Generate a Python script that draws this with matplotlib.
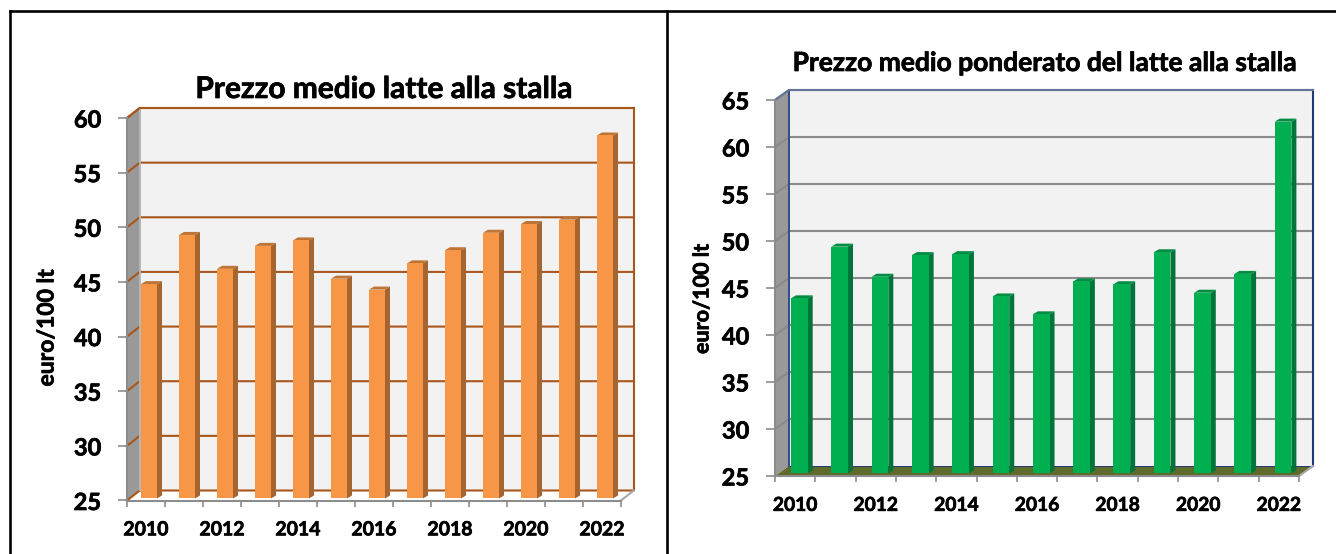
import matplotlib
matplotlib.use('Agg')
import matplotlib.pyplot as plt
import matplotlib.patheffects as pe
from matplotlib.lines import Line2D
from matplotlib.patches import Polygon
from matplotlib.text import Text
import numpy as np

W, H = 1336, 554

years = [2010, 2011, 2012, 2013, 2014, 2015, 2016, 2017, 2018, 2019, 2020, 2021, 2022]
prezzo_medio = [44.8, 49.3, 46.2, 48.3, 48.8, 45.3, 44.3, 46.7, 47.9, 49.5, 50.3, 50.7, 58.4]
prezzo_ponderato = [43.9, 49.4, 46.2, 48.5, 48.6, 44.1, 42.2, 45.7, 45.4, 48.8, 44.5, 46.5, 62.7]

ticks_left = [25, 30, 35, 40, 45, 50, 55, 60]
ticks_right = [25, 30, 35, 40, 45, 50, 55, 60, 65]

plt.rcParams['font.family'] = ['Lato', 'DejaVu Sans']
plt.rcParams['font.weight'] = 'bold'


def px_axes(fig, x0, x1, y_top, y_bottom):
    return fig.add_axes([x0/W, 1 - y_bottom/H, (x1 - x0)/W, (y_bottom - y_top)/H])


def panel(fig, values, yticks, box, depth_px, style):
    # box is the front plane in pixels: left, right, top, bottom
    x0, x1, y_top, y_bot = box
    ddx, ddy = depth_px
    ymin, ymax = yticks[0], yticks[-1]
    n = len(values)
    px_x = (x1 - x0) / n
    px_y = (y_bot - y_top) / (ymax - ymin)
    dx, dy = ddx / px_x, ddy / px_y

    ax = px_axes(fig, x0, x1 + ddx, y_top - ddy, y_bot)
    ax.set_xlim(0, n + dx)
    ax.set_ylim(ymin, ymax + dy)
    ax.patch.set_visible(False)

    # walls
    ax.add_patch(Polygon([(dx, ymin + dy), (n + dx, ymin + dy), (n + dx, ymax + dy), (dx, ymax + dy)],
                         fc='#f2f2f2', ec='none', zorder=1))
    ax.add_patch(Polygon([(0, ymin), (dx, ymin + dy), (dx, ymax + dy), (0, ymax)],
                         fc='#999999', ec='none', zorder=1))
    if style['floor']:
        ax.add_patch(Polygon([(0, ymin), (dx, ymin + dy), (n + dx, ymin + dy), (n, ymin)],
                             fc=style['floor'], ec='none', zorder=2))

    # gridlines on back wall and side wall
    for v in yticks:
        if v == ymin and style['floor']:
            ax.plot([dx, n + dx], [v + dy, v + dy], c=style['edge'], lw=0.7, zorder=2)
            continue
        ax.plot([0, dx, n + dx], [v, v + dy, v + dy], c=style['grid'], lw=1.5, zorder=2,
                solid_joinstyle='miter', clip_on=False)
    ax.plot([dx, dx], [ymin + dy, ymax + dy], c=style['back_left'], lw=1.4, zorder=2, clip_on=False)
    ax.plot([n + dx, n + dx], [ymin + dy, ymax + dy], c=style['edge'], lw=1.5, zorder=2, clip_on=False)
    ax.plot([0, dx, n + dx], [ymax, ymax + dy, ymax + dy], c=style['top'], lw=1.5, zorder=2, clip_on=False)

    # bars
    off = style['bar_off'] / px_x
    bw = style['bar_w'] / px_x
    sx = style['side'][0] / px_x
    sy = style['side'][1] / px_y
    base = ymin + style['bar_base'] / px_y
    for i, v in enumerate(values):
        left = i + off
        right = left + bw
        ax.add_patch(Polygon([(right, base), (right + sx, base + sy), (right + sx, v + sy), (right, v)],
                             fc=style['c_side'], ec='none', zorder=3))
        ax.add_patch(Polygon([(left, v), (left + sx, v + sy), (right + sx, v + sy), (right, v)],
                             fc=style['c_top'], ec='none', zorder=3))
        ax.add_patch(Polygon([(left, base), (right, base), (right, v), (left, v)],
                             fc=style['c_front'], ec='none', zorder=4))

    # axes
    for s in ['top', 'right']:
        ax.spines[s].set_visible(False)
    for s in ['left', 'bottom']:
        ax.spines[s].set_color('#8c8c8c')
        ax.spines[s].set_linewidth(1.5)
        ax.spines[s].set_zorder(5)
    ax.spines['left'].set_bounds(ymin, ymax)
    ax.spines['bottom'].set_bounds(0, n)
    ax.plot([n, n + dx], [ymin, ymin + dy], c='#a6a6a6', lw=1.5, zorder=2, clip_on=False)

    ax.set_yticks(yticks)
    ax.tick_params(axis='y', length=6.5, width=1.2, color='#8c8c8c', pad=style['ypad'],
                   labelsize=style['ysize'])
    ax.set_xticks(np.arange(n + 1))
    ax.set_xticklabels([])
    ax.tick_params(axis='x', which='major', length=4.5, width=1.2, color='#8c8c8c')
    ax.set_xticks(np.arange(0, n, 2) + 0.5, [str(y) for y in years[::2]], minor=True)
    ax.tick_params(axis='x', which='minor', length=0, pad=style['xpad'], labelsize=style['xsize'])
    return ax


fig = plt.figure(figsize=(W/100, H/100), dpi=100)

left_style = dict(floor=None, grid='#a9561b', back_left='#b5b5b5', edge='#a9561b', top='#a9561b',
                  bar_off=14, bar_w=16, side=(5, 3), bar_base=2,
                  c_front='#f79646', c_side='#a6652f', c_top='#bd7434',
                  ypad=12, ysize=17, xpad=15, xsize=14)
panel(fig, prezzo_medio, ticks_left, (127, 621, 118, 500.5), (12.7, 10), left_style)

right_style = dict(floor='#5f6b2b', grid='#8a8a8a', back_left='#2f4b8c', edge='#1f3a7a', top='#66749c',
                   bar_off=16, bar_w=16.7, side=(5, 3), bar_base=2.7,
                   c_front='#00b050', c_side='#00753a', c_top='#008c42',
                   ypad=12, ysize=17, xpad=15, xsize=13.8)
panel(fig, prezzo_ponderato, ticks_right, (775, 1299, 100, 476), (14, 10), right_style)

fig.text(384/W, 1 - 89/H, 'Prezzo medio latte alla stalla', ha='center', va='center', fontsize=21.5)
fig.text(1044/W, 1 - 63/H, 'Prezzo medio ponderato del latte alla stalla', ha='center', va='center', fontsize=19)
fig.text(47/W, 1 - 328/H, 'euro/100 lt', rotation=90, ha='center', va='center', fontsize=16.5)
fig.text(702/W, 1 - 299/H, 'euro/100 lt', rotation=90, ha='center', va='center', fontsize=15.5)

# the reference font is heavier than Lato Bold, thicken it a bit
for t in fig.findobj(Text):
    t.set_path_effects([pe.withStroke(linewidth=0.5, foreground='k')])

# black frame around the two panels, open on the right
for xs, ys in [([10, 1336], [11, 11]), ([10, 10], [11, 554]), ([667, 667], [11, 554])]:
    fig.add_artist(Line2D([x/W for x in xs], [1 - y/H for y in ys], c='k', lw=1.9,
                          transform=fig.transFigure))

fig.savefig('out.png', dpi=100)
